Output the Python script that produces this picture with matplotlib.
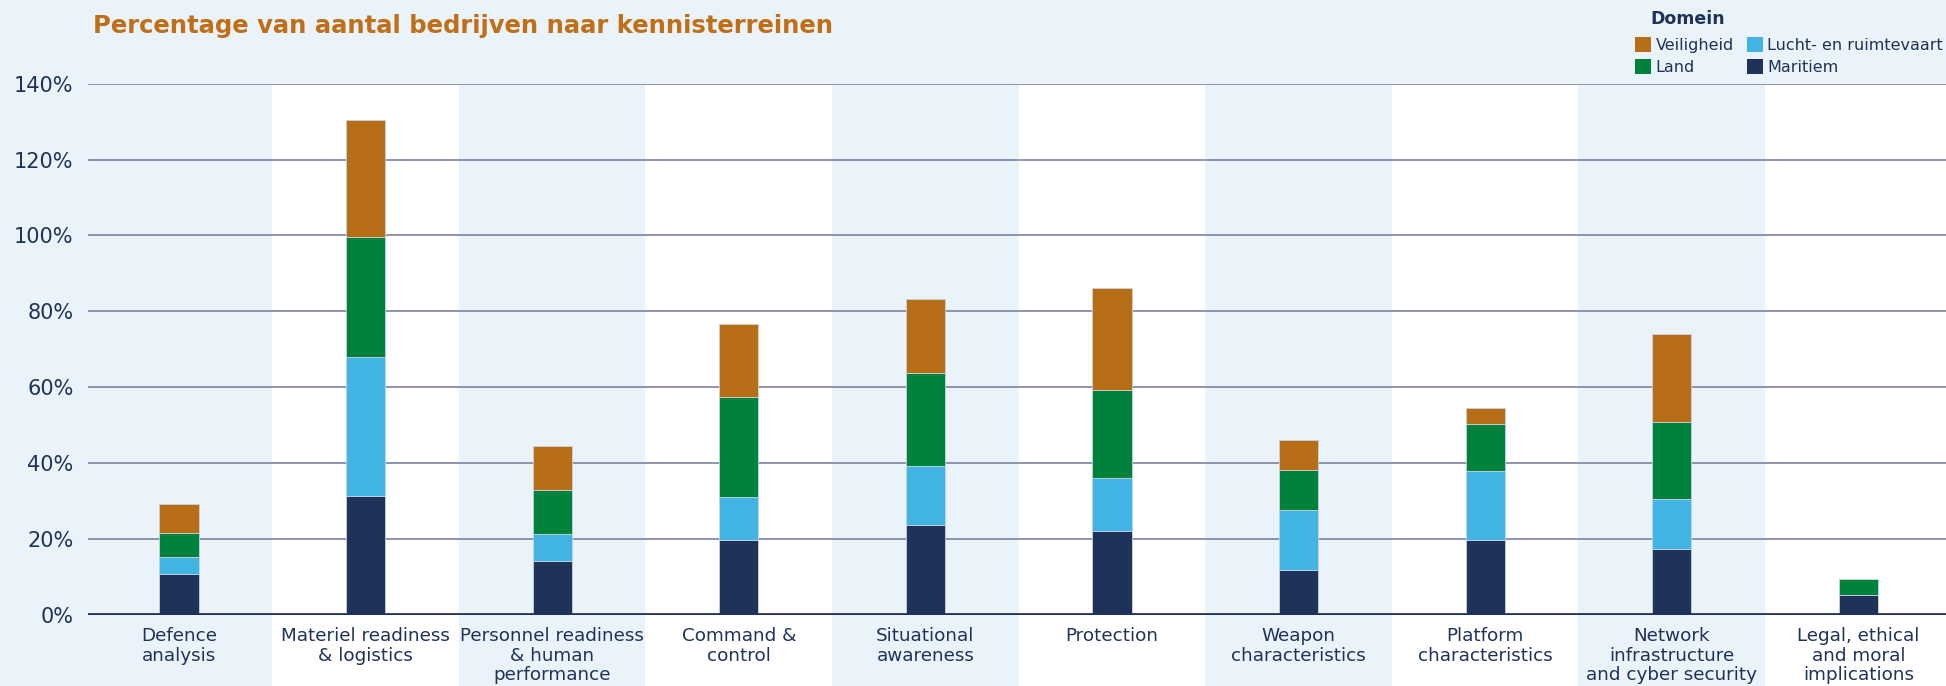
import numpy as np
import matplotlib
matplotlib.use("Agg")
import matplotlib.pyplot as plt
from matplotlib.patches import Rectangle, Patch
from matplotlib.transforms import blended_transform_factory

# kennisterreinen (x-as)
terreinen = [
    "Defence\nanalysis",
    "Materiel readiness\n& logistics",
    "Personnel readiness\n& human\nperformance",
    "Command &\ncontrol",
    "Situational\nawareness",
    "Protection",
    "Weapon\ncharacteristics",
    "Platform\ncharacteristics",
    "Network\ninfrastructure\nand cyber security",
    "Legal, ethical\nand moral\nimplications",
]

# percentage bedrijven per domein, gestapeld van onder naar boven
maritiem = [10.6, 31.4, 14.2, 19.6, 23.7, 22.1, 11.7, 19.7, 17.2, 5.2]
lucht = [4.6, 36.6, 7.0, 11.5, 15.6, 13.9, 16.0, 18.3, 13.3, 0.0]
land = [6.2, 31.7, 11.6, 26.4, 24.4, 23.2, 10.5, 12.4, 20.2, 4.3]
veiligheid = [7.7, 30.6, 11.7, 19.1, 19.5, 26.8, 7.8, 4.1, 23.2, 0.0]

y_ticks = [0, 20, 40, 60, 80, 100, 120, 140]

NAVY = "#1f3259"
LIGHTBLUE = "#42b4e4"
GREEN = "#00823c"
ORANGE = "#b86e17"
BG = "#eaf2fa"
GRID = "#878ba8"

fig = plt.figure(figsize=(19.46, 6.86), dpi=100, facecolor=BG)
ax = fig.add_axes([0.045, 0.104, 0.955, 0.774])
ax.set_facecolor("none")

x = np.arange(len(terreinen))
ax.set_xlim(-0.49, len(terreinen) - 0.53)
ax.set_ylim(0, 140)

# witte banden achter elk tweede kennisterrein, doorlopend tot onder de labels
trans = blended_transform_factory(ax.transData, ax.transAxes)
for i in x:
    if i % 2 == 1:
        ax.add_patch(Rectangle((i - 0.5, -0.3), 1.0, 1.3, transform=trans,
                               facecolor="white", edgecolor="none",
                               clip_on=False, zorder=0))

for t in y_ticks[1:]:
    ax.axhline(t, color=GRID, lw=1.3, zorder=1)

width = 0.21
bottom = np.zeros(len(terreinen))
series = [(maritiem, NAVY), (lucht, LIGHTBLUE), (land, GREEN), (veiligheid, ORANGE)]
for vals, col in series:
    vals = np.array(vals)
    ax.bar(x, vals, width, bottom=bottom, color=col, edgecolor="#c8d2e2",
           linewidth=0.6, zorder=3)
    bottom += vals

ax.axhline(0, color=NAVY, lw=3.4, zorder=4)

for s in ax.spines.values():
    s.set_visible(False)

ax.set_yticks(y_ticks)
ax.set_yticklabels([f"{t}%" for t in y_ticks])
ax.set_xticks(x)
ax.set_xticklabels(terreinen, linespacing=1.1)
ax.tick_params(axis="y", length=0, pad=10, labelsize=15, labelcolor=NAVY)
ax.tick_params(axis="x", length=0, pad=9, labelsize=13.2, labelcolor=NAVY)
for lbl in ax.get_xticklabels():
    lbl.set_verticalalignment("top")

fig.text(0.048, 0.962, "Percentage van aantal bedrijven naar kennisterreinen",
         color="#bf6f18", fontsize=17.5, fontweight="semibold", va="center", ha="left")

# legenda
fig.text(0.848, 0.972, "Domein", color=NAVY, fontsize=12.5, fontweight="bold",
         va="center", ha="left")
handles = [Patch(facecolor=ORANGE, label="Veiligheid"),
           Patch(facecolor=GREEN, label="Land"),
           Patch(facecolor=LIGHTBLUE, label="Lucht- en ruimtevaart"),
           Patch(facecolor=NAVY, label="Maritiem")]
leg = fig.legend(handles=handles, ncol=2, loc="upper left",
                 bbox_to_anchor=(0.836, 0.957), frameon=False,
                 fontsize=11.5, handlelength=1.0, handleheight=1.0,
                 handletextpad=0.3, columnspacing=0.8, labelspacing=0.4,
                 borderpad=0.0)
for txt in leg.get_texts():
    txt.set_color(NAVY)

fig.savefig("out.png", dpi=100, facecolor=BG)
